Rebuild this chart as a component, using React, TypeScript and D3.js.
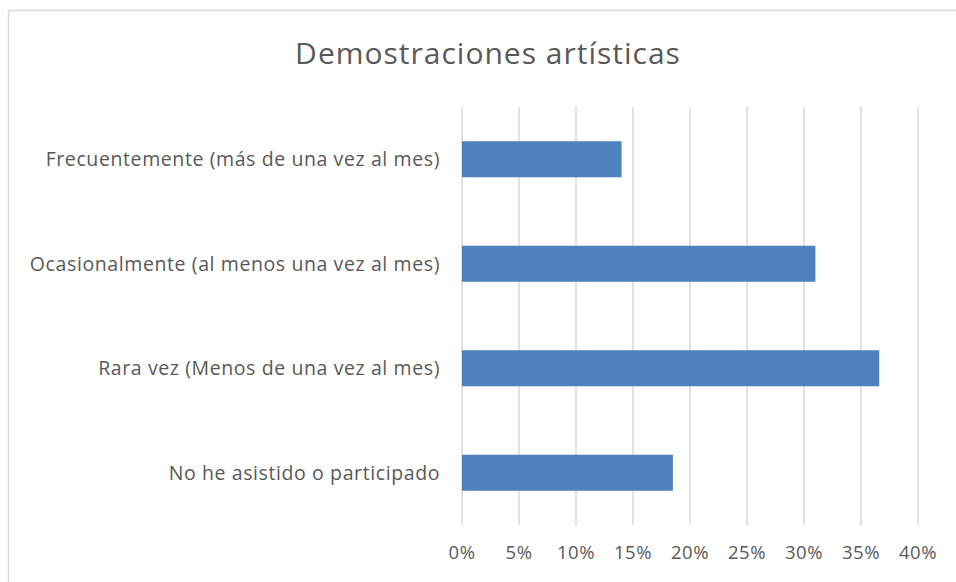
import React, { useEffect, useRef } from 'react';
import * as d3 from 'd3';

const categories = [
  'Frecuentemente (más de una vez al mes)',
  'Ocasionalmente (al menos una vez al mes)',
  'Rara vez (Menos de una vez al mes)',
  'No he asistido o participado',
];
const values = [0.14, 0.31, 0.366, 0.185];
const xTicks = [0, 0.05, 0.1, 0.15, 0.2, 0.25, 0.3, 0.35, 0.4];
const chartTitle = 'Demostraciones artísticas';

const W = 956;
const H = 582;

const App = () => {
  const svgRef = useRef<SVGSVGElement>(null);

  useEffect(() => {
    const svg = d3.select(svgRef.current);
    svg.selectAll('*').remove();

    const margin = { top: 107, right: 38, bottom: 57, left: 462 };
    const innerWidth = W - margin.left - margin.right;
    const innerHeight = H - margin.top - margin.bottom;
    const font = "'Open Sans', 'Liberation Sans', sans-serif";

    // chart frame (cropped on the right and bottom)
    svg.append('rect')
      .attr('x', 8.5).attr('y', 10.5)
      .attr('width', W + 20).attr('height', H + 20)
      .attr('fill', 'white')
      .attr('stroke', '#d9d9d9')
      .attr('stroke-width', 1.5);

    svg.append('text')
      .attr('x', 488)
      .attr('y', 64)
      .attr('text-anchor', 'middle')
      .style('font-family', font)
      .style('font-size', '30px')
      .style('letter-spacing', '1px')
      .style('fill', '#595959')
      .text(chartTitle);

    const g = svg.append('g')
      .attr('transform', `translate(${margin.left},${margin.top})`);

    const x = d3.scaleLinear().domain([0, 0.4]).range([0, innerWidth]);
    const y = d3.scaleBand()
      .domain(categories)
      .range([0, innerHeight])
      .paddingInner(0.655)
      .paddingOuter(0.3275);

    // grid lines
    g.selectAll('.grid')
      .data(xTicks)
      .enter().append('line')
      .attr('x1', d => x(d)).attr('x2', d => x(d))
      .attr('y1', 0).attr('y2', innerHeight)
      .attr('stroke', '#d9d9d9')
      .attr('stroke-width', 1.5);

    g.selectAll('.bar')
      .data(categories)
      .enter().append('rect')
      .attr('x', x(0))
      .attr('y', d => y(d) as number)
      .attr('width', (d, i) => x(values[i]) - x(0))
      .attr('height', y.bandwidth())
      .attr('fill', '#4f81bd');

    // category labels
    g.selectAll('.cat')
      .data(categories)
      .enter().append('text')
      .attr('x', -22)
      .attr('y', d => (y(d) as number) + y.bandwidth() / 2)
      .attr('dy', '0.35em')
      .attr('text-anchor', 'end')
      .style('font-family', font)
      .style('font-size', '19.5px')
      .style('letter-spacing', '0.6px')
      .style('fill', '#595959')
      .text(d => d);

    // tick labels
    g.selectAll('.tick-label')
      .data(xTicks)
      .enter().append('text')
      .attr('x', d => x(d))
      .attr('y', innerHeight + 28)
      .attr('dy', '0.35em')
      .attr('text-anchor', 'middle')
      .style('font-family', font)
      .style('font-size', '18.5px')
      .style('letter-spacing', '0.5px')
      .style('fill', '#595959')
      .text(d => d3.format('.0%')(d));
  }, []);

  return (
    <div style={{ position: 'fixed', left: 0, top: 0, width: W, height: H, background: 'white' }}>
      <svg ref={svgRef} width={W} height={H} style={{ display: 'block' }}></svg>
    </div>
  );
};

export default App;
